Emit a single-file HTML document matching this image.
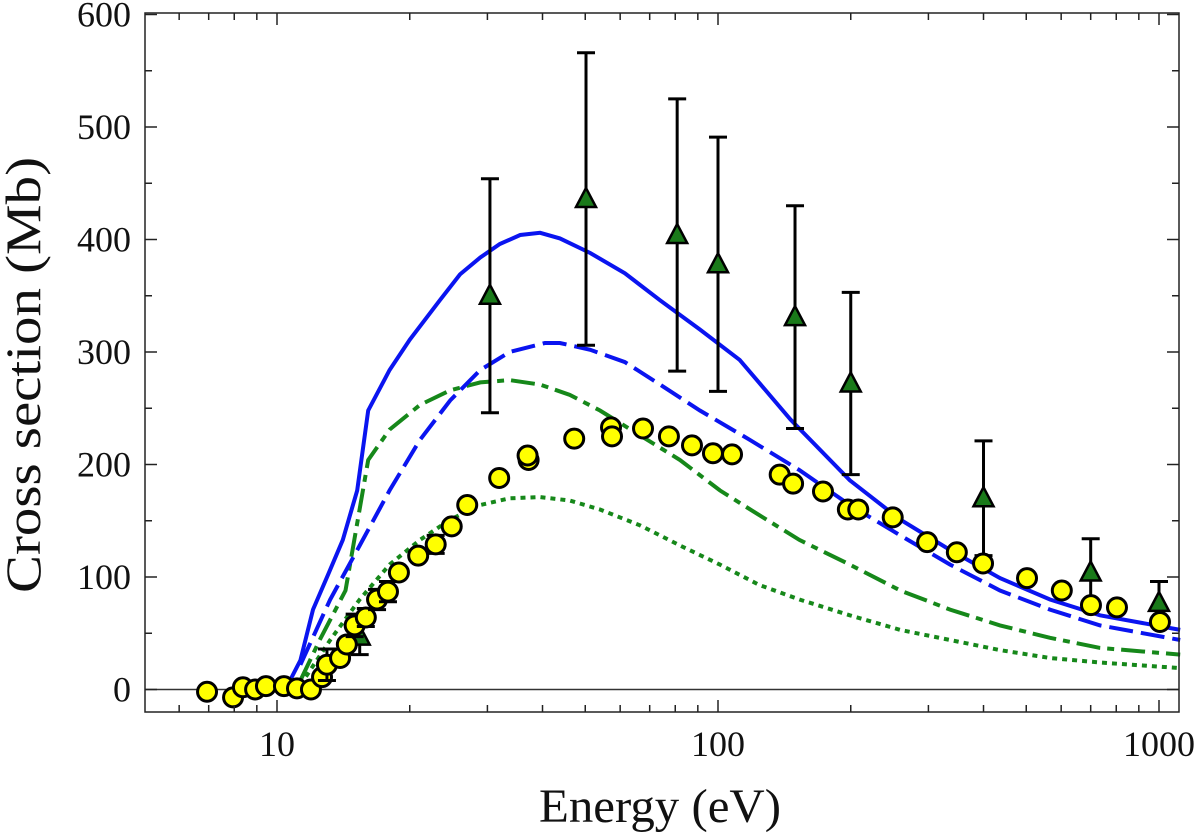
<!DOCTYPE html>
<html><head><meta charset="utf-8"><style>
html,body{margin:0;padding:0;background:#fff;}
svg{display:block;font-family:"Liberation Serif",serif;}
</style></head><body>
<svg id="chart" width="1200" height="834" viewBox="0 0 1200 834">
<g id="grid"></g><g id="series"></g><g id="marks"></g><g id="axes"></g>
</svg>
<script>
const solidE=[10.7,11.3,12.07,13.05,14.1,15.2,16.1,18.0,20.0,23.4,26.0,28.9,32.0,35.6,39.5,43.8,51.3,61.5,73.9,91,112,146,199,259,336,436,566,735,1117];
const solidV=[8,26,71,102,133,177,248,284,311,346,369,384,396,404,406,401,388,370,346,320,293,240,186,151,124,99,80,66,53];
const dashE=[11.3,13.2,15.4,18.0,21.1,24.7,28.9,33.7,40.5,43.8,51.3,61.5,73.9,91,118,153,199,259,336,436,566,735,1117];
const dashV=[22,80,128,177,222,257,284,300,308,308,302,291,271,248,222,195,164,137,111,88,71,57,44];
const dashDotE=[11.3,12.5,14.3,16.1,18.0,21.1,24.7,28.9,33.7,39.5,46.1,54,66.5,82,101,124,153,199,259,336,436,566,735,1117];
const dashDotV=[8,44,88,204,231,253,266,273,275,271,262,248,226,204,177,155,133,111,88,71,57,46,37,31];
const dotE=[11.3,13.2,15.4,18.0,21.1,24.7,28.9,33.7,39.5,46.1,54,66.5,82,101,124,153,199,259,336,436,566,735,1117];
const dotV=[4,44,80,111,133,151,164,170,171,168,160,146,128,111,93,80,66,53,44,35,28,24,19];
const circE=[6.94,7.95,8.37,8.92,9.44,10.37,11.1,11.94,12.65,12.98,13.9,14.4,15.0,15.9,16.86,17.85,18.9,20.9,22.9,24.9,27.0,31.9,37.2,37.0,47.2,57.2,57.5,67.6,77.4,87.3,97.4,107.6,138,148,173,197,208,249,298,348,399,502,602,701,803,1005];
const circV=[-2,-7,2,0,3,3,1,0,11,22,28,40,57,64,80,87,104,119,129,145,164,188,204,208,223,233,225,232,225,217,210,209,191,183,176,160,160,153,131,122,112,99,88,75,73,60];
const circErr=[0,0,0,0,0,0,0,0,0,14,0,0,10,8,9,9,0,0,8,0,0,0,4,0,0,0,0,0,0,0,0,0,0,0,0,0,0,0,0,0,0,0,0,0,0,0];
const triE=[15.4,30.4,50.2,80.8,100,149.5,200,400,700,1000];
const triV=[47,350,436,404,378,331,272,170,104,77];
const triErr=[16,104,130,121,113,99,81,51,30,19];
const yTicks=[0,100,200,300,400,500,600];
const xTicks=[10,100,1000];

const L=145,R=1179,T=13,B=712;
const xs=e=>277+441*(Math.log10(e)-1);
const ys=v=>689.5-1.125*v;
const NS='http://www.w3.org/2000/svg';
function mk(tag,attrs,parent){const el=document.createElementNS(NS,tag);for(const k in attrs)el.setAttribute(k,attrs[k]);parent.appendChild(el);return el;}
const G=document.getElementById('grid'),S=document.getElementById('series'),M=document.getElementById('marks'),A=document.getElementById('axes');

const zl=mk('line',{x1:L,x2:R,y1:ys(0),y2:ys(0),stroke:'#333','stroke-width':1.5},G);



function curve(E,V,color,dash,name){
  const d=E.map((e,i)=>(i?'L':'M')+xs(e).toFixed(1)+','+ys(V[i]).toFixed(1)).join(' ');
  const p=mk('path',{d:d,fill:'none',stroke:color,'stroke-width':4,'stroke-dasharray':dash},S);
  
  
}
curve(dotE,dotV,'#16881a','5,5','green-dotted-curve');
curve(dashDotE,dashDotV,'#16881a','24,7,7,7','green-dash-dot-curve');
curve(dashE,dashV,'#0a14f0','24,8','blue-dashed-curve');
curve(solidE,solidV,'#0a14f0','none','blue-solid-curve');

function errbar(x,v,err,parent){
  const g=mk('g',{stroke:'#000','stroke-width':3},parent);
  mk('line',{x1:x,x2:x,y1:ys(v+err),y2:ys(v-err)},g);
  mk('line',{x1:x-9,x2:x+9,y1:ys(v+err),y2:ys(v+err)},g);
  mk('line',{x1:x-9,x2:x+9,y1:ys(v-err),y2:ys(v-err)},g);
  return g;
}
triE.forEach((e,i)=>{
  const x=xs(e),y=ys(triV[i]);
  const eb=errbar(x,triV[i],triErr[i],M);
  
  
  const t=mk('polygon',{points:`${x},${y-11} ${x-10},${y+8} ${x+10},${y+8}`,fill:'#1a7a1a',stroke:'#000','stroke-width':2.5},M);
  
  
});
circE.forEach((e,i)=>{
  const x=xs(e),y=ys(circV[i]);
  if(circErr[i]>0){
    const eb=errbar(x,circV[i],circErr[i],M);
    
    
  }
  const c=mk('circle',{cx:x,cy:y,r:9.5,fill:'#ffff00',stroke:'#000','stroke-width':3},M);
  
  
});

const fr=mk('rect',{x:L,y:T,width:R-L,height:B-T,fill:'none',stroke:'#222','stroke-width':1.5},A);


for(let v=0;v<=600;v+=50){
  const len=(v%100===0)?12:7;
  mk('line',{x1:L,x2:L+len,y1:ys(v),y2:ys(v),stroke:'#222','stroke-width':1.5},A);
  mk('line',{x1:R,x2:R-len,y1:ys(v),y2:ys(v),stroke:'#222','stroke-width':1.5},A);
}
yTicks.forEach(v=>{
  const t=mk('text',{x:L-14,y:ys(v)+12,'text-anchor':'end','font-size':36,fill:'#111'},A);
  t.textContent=v;
  
  
});
for(let dec=1;dec<=1000;dec*=10){
  for(let k=1;k<10;k++){
    const e=dec*k;const x=xs(e);
    if(x<L||x>R)continue;
    const len=(k===1)?12:7;
    mk('line',{x1:x,x2:x,y1:B,y2:B-len,stroke:'#222','stroke-width':1.5},A);
    mk('line',{x1:x,x2:x,y1:T,y2:T+len,stroke:'#222','stroke-width':1.5},A);
  }
}
xTicks.forEach(v=>{
  const t=mk('text',{x:xs(v),y:B+44,'text-anchor':'middle','font-size':36,fill:'#111'},A);
  t.textContent=v;
  
  
});
const xt=mk('text',{x:660,y:822,'text-anchor':'middle','font-size':48,fill:'#111',textLength:242,lengthAdjust:'spacingAndGlyphs'},A);
xt.textContent='Energy (eV)';


const yt=mk('text',{x:0,y:0,'text-anchor':'middle','font-size':50,fill:'#111',textLength:436,lengthAdjust:'spacingAndGlyphs',transform:`translate(40,375) rotate(-90)`},A);
yt.textContent='Cross section (Mb)';


</script>
</body></html>
